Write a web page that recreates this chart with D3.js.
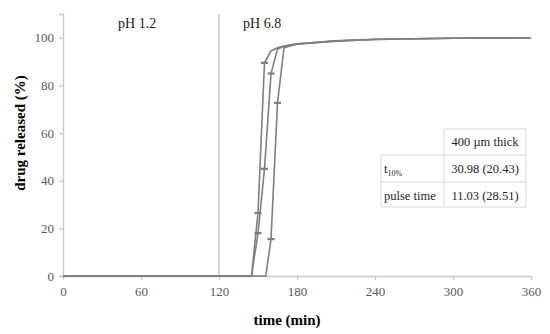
<!DOCTYPE html>
<html>
<head>
<meta charset="utf-8">
<script src="https://cdnjs.cloudflare.com/ajax/libs/d3/7.8.5/d3.min.js"></script>
<style>
  body { margin: 0; background: #fff; }
  text { font-family: "Liberation Serif", "Times New Roman", serif; }
</style>
</head>
<body>
<div id="chart"></div>
<script>
// release profiles, three replicate tablets (time in min, drug released in %)
var timeA = [0, 145, 150, 155, 160, 165, 170, 180, 210, 240, 270, 300, 330, 360];
var relA  = [0, 0, 26.5, 89.5, 94.5, 95.8, 96.6, 97.5, 98.8, 99.4, 99.6, 99.8, 99.9, 100];
var sdA   = [0, 0, 0.2, 0.2, 0, 0, 0, 0, 0, 0, 0, 0, 0, 0];

var timeB = [0, 145, 150, 155, 160, 165, 170, 180, 210, 240, 270, 300, 330, 360];
var relB  = [0, 0, 18, 45, 85, 95.3, 96.5, 97.4, 98.7, 99.3, 99.6, 99.8, 99.9, 100];
var sdB   = [0, 0, 0.2, 0.2, 0.2, 0, 0, 0, 0, 0, 0, 0, 0, 0];

var timeC = [0, 156, 160, 165, 170, 175, 180, 210, 240, 270, 300, 330, 360];
var relC  = [0, 0, 15.5, 72.7, 95.8, 96.6, 97.3, 98.6, 99.3, 99.6, 99.8, 99.9, 100];
var sdC   = [0, 0, 0.2, 0.2, 0, 0, 0, 0, 0, 0, 0, 0, 0];

var xTicks = [0, 60, 120, 180, 240, 300, 360];
var yTicks = [0, 20, 40, 60, 80, 100];
var phLabels = ["pH 1.2", "pH 6.8"];
var phChange = 120;

var tableHeader = ["", "400 \u00b5m thick"];
var tableRows = [["t", "30.98 (20.43)"], ["pulse time", "11.03 (28.51)"]];

function init() {
    var w = 550, h = 334;
    var margin = {left: 63, right: 19, top: 14, bottom: 58};

    var svg = d3.select("#chart").append("svg")
        .attr("width", w)
        .attr("height", h);

    var xScale = d3.scaleLinear()
        .domain([0, 360])
        .range([margin.left, w - margin.right]);

    var yScale = d3.scaleLinear()
        .domain([0, 110])
        .range([h - margin.bottom, margin.top]);

    var axisColor = "#c8c8c8";
    var labelColor = "#595959";

    // y axis
    var yAxis = svg.append("g")
        .attr("transform", "translate(" + margin.left + ",0)")
        .call(d3.axisLeft(yScale).tickValues(yTicks).tickSize(4).tickPadding(5));
    yAxis.select(".domain").attr("stroke", axisColor).attr("stroke-width", 1.3);
    yAxis.selectAll(".tick line").attr("stroke", axisColor).attr("stroke-width", 1.3);
    yAxis.selectAll("text")
        .attr("fill", labelColor)
        .style("font-size", "13px")
        .style("font-family", "Liberation Serif, serif");

    // x axis
    var xAxis = svg.append("g")
        .attr("transform", "translate(0," + yScale(0) + ")")
        .call(d3.axisBottom(xScale).tickValues(xTicks).tickSize(4).tickPadding(7).tickSizeOuter(0));
    xAxis.select(".domain").attr("stroke", axisColor).attr("stroke-width", 1.5);
    xAxis.selectAll(".tick line").attr("stroke", axisColor).attr("stroke-width", 1.3);
    xAxis.selectAll("text")
        .attr("fill", labelColor)
        .style("font-size", "13px")
        .style("font-family", "Liberation Serif, serif");

    // pH change marker
    svg.append("line")
        .attr("x1", xScale(phChange)).attr("x2", xScale(phChange))
        .attr("y1", yScale(110)).attr("y2", yScale(0))
        .attr("stroke", "#b0b0b0")
        .attr("stroke-width", 1);

    svg.append("text")
        .attr("x", xScale(57))
        .attr("y", 28)
        .attr("text-anchor", "middle")
        .style("font-size", "14px")
        .attr("fill", "#1a1a1a")
        .text(phLabels[0]);
    svg.append("text")
        .attr("x", xScale(138.5))
        .attr("y", 28)
        .style("font-size", "14px")
        .attr("fill", "#1a1a1a")
        .text(phLabels[1]);

    // curves
    var line = d3.line()
        .x(function (d) { return xScale(d[0]); })
        .y(function (d) { return yScale(d[1]); });

    var series = [
        {t: timeA, v: relA, sd: sdA},
        {t: timeB, v: relB, sd: sdB},
        {t: timeC, v: relC, sd: sdC}
    ];

    series.forEach(function (s) {
        var pts = s.t.map(function (t, i) { return [t, s.v[i], s.sd[i]]; });
        svg.append("path")
            .datum(pts)
            .attr("d", line)
            .attr("fill", "none")
            .attr("stroke", "#7f7f7f")
            .attr("stroke-width", 1.6);

        // error bar caps (sd is tiny, so the two caps merge into one dash)
        var caps = pts.filter(function (d) { return d[2] > 0; });
        svg.selectAll(null)
            .data(caps.concat(caps.map(function (d) { return [d[0], d[1], -d[2]]; })))
            .enter()
            .append("line")
            .attr("x1", function (d) { return xScale(d[0]) - 3.5; })
            .attr("x2", function (d) { return xScale(d[0]) + 3.5; })
            .attr("y1", function (d) { return yScale(d[1] + d[2]); })
            .attr("y2", function (d) { return yScale(d[1] + d[2]); })
            .attr("stroke", "#7f7f7f")
            .attr("stroke-width", 1.3);
    });

    // axis titles
    svg.append("text")
        .attr("x", 287)
        .attr("y", 325)
        .attr("text-anchor", "middle")
        .style("font-size", "15px")
        .style("font-weight", "bold")
        .text("time (min)");

    svg.append("text")
        .attr("transform", "translate(25,133) rotate(-90)")
        .attr("text-anchor", "middle")
        .style("font-size", "15px")
        .style("font-weight", "bold")
        .text("drug released (%)");

    // table
    var tx0 = 381, tx1 = 444, tx2 = 526;
    var rowY = [129, 155, 182, 207];
    var g = svg.append("g");
    var bc = "#d9d9d9";
    g.append("rect")
        .attr("x", tx0).attr("y", rowY[0])
        .attr("width", tx2 - tx0).attr("height", rowY[3] - rowY[0])
        .attr("fill", "#fff");
    g.append("line").attr("x1", tx1).attr("x2", tx2).attr("y1", rowY[0]).attr("y2", rowY[0]).attr("stroke", bc);
    [1, 2, 3].forEach(function (i) {
        g.append("line").attr("x1", tx0).attr("x2", tx2).attr("y1", rowY[i]).attr("y2", rowY[i]).attr("stroke", bc);
    });
    g.append("line").attr("x1", tx0).attr("x2", tx0).attr("y1", rowY[1]).attr("y2", rowY[3]).attr("stroke", bc);
    g.append("line").attr("x1", tx1).attr("x2", tx1).attr("y1", rowY[0]).attr("y2", rowY[3]).attr("stroke", bc);
    g.append("line").attr("x1", tx2).attr("x2", tx2).attr("y1", rowY[0]).attr("y2", rowY[3]).attr("stroke", bc);

    var tc = "#262626";
    g.append("text")
        .attr("x", (tx1 + tx2) / 2).attr("y", rowY[0] + 17)
        .attr("text-anchor", "middle")
        .style("font-size", "12.5px").attr("fill", tc)
        .text(tableHeader[1]);

    tableRows.forEach(function (r, i) {
        var yb = rowY[i + 1] + 17.5;
        var t = g.append("text")
            .attr("x", tx0 + 3).attr("y", yb)
            .style("font-size", "12.5px").attr("fill", tc)
            .text(r[0]);
        if (i === 0) {
            t.append("tspan")
                .attr("dy", 3)
                .style("font-size", "8px")
                .text("10%");
        }
        g.append("text")
            .attr("x", (tx1 + tx2) / 2).attr("y", yb)
            .attr("text-anchor", "middle")
            .style("font-size", "12.5px").attr("fill", tc)
            .text(r[1]);
    });
}

window.onload = init;
</script>
</body>
</html>
